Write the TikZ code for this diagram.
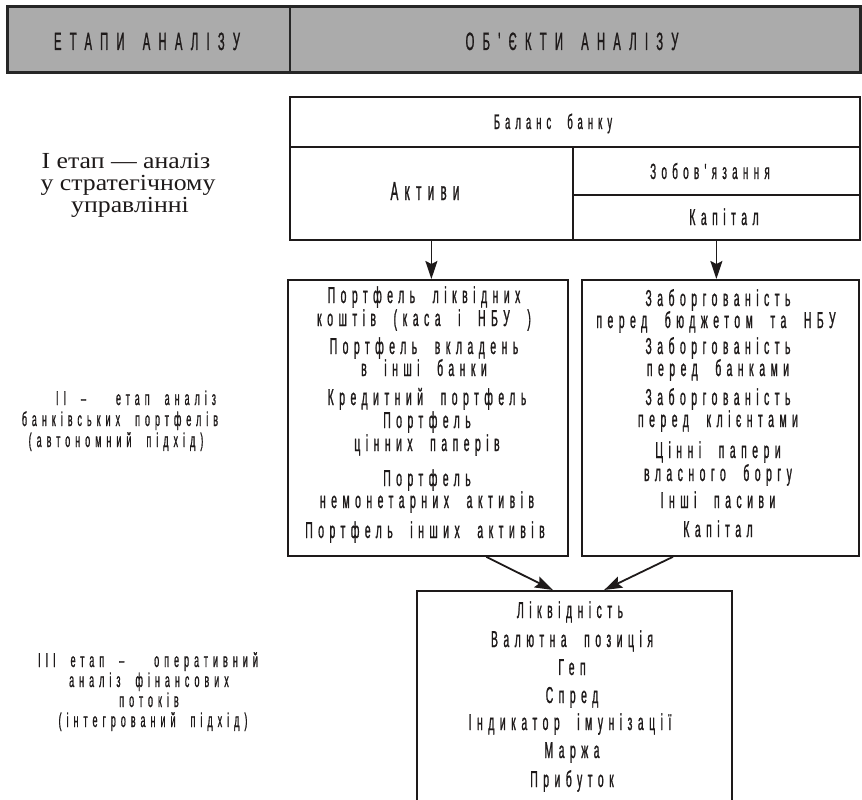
\documentclass[tikz,border=0pt]{standalone}
\usepackage{fontspec}
\setmainfont{Liberation Serif}
\newfontfamily\serf[FakeStretch=1.12]{Liberation Serif}
\newfontfamily\narf[FakeStretch=0.45,LetterSpace=24,WordSpace=2.1,FakeBold=1]{Liberation Sans}
\newfontfamily\lftf[FakeStretch=0.45,LetterSpace=25,WordSpace=2.0,FakeBold=0.8]{Liberation Sans}
\newfontfamily\hdrf[FakeStretch=0.45,LetterSpace=33,WordSpace=1.6,FakeBold=1]{Liberation Sans}
\usetikzlibrary{arrows.meta,calc}
\definecolor{ink}{HTML}{1E1A1A}
\tikzset{
  txt/.style={font=\narf\fontsize{#1}{#1}\selectfont, text=ink, inner sep=0pt, anchor=base},
  txt/.default=23,
  lft/.style={font=\lftf\fontsize{20}{20}\selectfont, text=ink, inner sep=0pt, anchor=base},
  hdrtxt/.style={font=\hdrf\fontsize{25}{25}\selectfont, text=ink, inner sep=0pt, anchor=base},
  sertxt/.style={font=\serf\fontsize{23}{23}\selectfont, text=ink, inner sep=0pt, anchor=base},
  frame/.style={draw=ink, line width=1.8pt, inner sep=0pt, anchor=north west},
  arr/.style={draw=ink, line width=1.8pt, -{Stealth[length=18pt,width=12pt,inset=3pt]}},
}
\begin{document}
\begin{tikzpicture}[x=1pt,y=-1pt]
\useasboundingbox (0,0) rectangle (862,800);
\clip (0,0) rectangle (862,800);
% header
\node[frame, fill=black!33, draw=black!85, line width=2.8pt, minimum width=853pt, minimum height=66pt] (hdr) at (6,5) {};
\draw[line width=2pt, black!85] (290,5) -- (290,71);
\node[hdrtxt] (h1) at (147,50) {ЕТАПИ АНАЛІЗУ};
\node[hdrtxt] (h2) at (572,50) {ОБ'ЄКТИ АНАЛІЗУ};
% balance box
\node[frame, minimum width=570pt, minimum height=50pt] (bal) at (289,96) {};
\node[frame, minimum width=283pt, minimum height=93pt] (akt) at (289,146) {};
\node[frame, minimum width=287pt, minimum height=48pt] (zob) at (572,146) {};
\node[frame, minimum width=287pt, minimum height=45pt] (kap) at (572,194) {};
\node[txt=21] (tbal) at (553,129) {Баланс банку};
\node[txt=26] (takt) at (425,200) {Активи};
\node[txt=22] (tzob) at (710,179) {Зобов'язання};
\node[txt=23] (tkap) at (724,225) {Капітал};
% stage I
\node[sertxt] (s1a) at (126,168) {І етап — аналіз};
\node[sertxt] (s1b) at (128,190) {у стратегічному};
\node[sertxt] (s1c) at (130,212) {управлінні};
% middle boxes
\node[frame, minimum width=280pt, minimum height=276pt] (lbox) at (287,279) {};
\node[frame, minimum width=277pt, minimum height=276pt] (rbox) at (581,279) {};
\draw[arr] (akt.south) -- (akt.south |- lbox.north);
\draw[arr] (kap.south) -- (kap.south |- rbox.north);
\node[txt] (a1) at (424,303) {Портфель ліквідних};
\node[txt] (a2) at (424,326) {коштів (каса і НБУ )};
\node[txt] (a3) at (424,354) {Портфель вкладень};
\node[txt] (a4) at (424,376) {в інші банки};
\node[txt] (a5) at (427,405) {Кредитний портфель};
\node[txt] (a6) at (427,428) {Портфель};
\node[txt] (a7) at (427,451) {цінних паперів};
\node[txt] (a8) at (427,486) {Портфель};
\node[txt] (a9) at (427,508) {немонетарних активів};
\node[txt] (a10) at (425,538) {Портфель інших активів};
\node[txt] (b1) at (718,306) {Заборгованість};
\node[txt] (b2) at (716,328) {перед бюджетом та НБУ};
\node[txt] (b3) at (718,354) {Заборгованість};
\node[txt] (b4) at (718,376) {перед банками};
\node[txt] (b5) at (718,405) {Заборгованість};
\node[txt] (b6) at (718,427) {перед клієнтами};
\node[txt] (b7) at (718,458) {Цінні папери};
\node[txt] (b8) at (718,481) {власного боргу};
\node[txt] (b9) at (718,508) {Інші пасиви};
\node[txt] (b10) at (718,537) {Капітал};
% stage II
\node[lft] (s2a) at (136,405) {ІІ –\ \ етап аналіз};
\node[lft] (s2b) at (120,426) {банківських портфелів};
\node[lft] (s2c) at (116,447) {(автономний підхід)};
% bottom box
\node[frame, minimum width=315pt, minimum height=230pt] (cbox) at (416,590) {};
\draw[arr] ($(lbox.south west)!0.707!(lbox.south east)$) -- ($(cbox.north west)!0.432!(cbox.north east)$);
\draw[arr] ($(rbox.south west)!0.33!(rbox.south east)$) -- ($(cbox.north west)!0.594!(cbox.north east)$);
\node[txt=23] (c1) at (570,618) {Ліквідність};
\node[txt=23] (c2) at (572,647) {Валютна позиція};
\node[txt=23] (c3) at (572,675) {Геп};
\node[txt=23] (c4) at (572,703) {Спред};
\node[txt=23] (c5) at (570,730) {Індикатор імунізації};
\node[txt=23] (c6) at (572,758) {Маржа};
\node[txt=23] (c7) at (572,787) {Прибуток};
% stage III
\node[lft] (s3a) at (148,667) {ІІІ етап –\ \ оперативний};
\node[lft] (s3b) at (149,687) {аналіз фінансових};
\node[lft] (s3c) at (149,707) {потоків};
\node[lft] (s3d) at (153,727) {(інтегрований підхід)};
\end{tikzpicture}
\end{document}
